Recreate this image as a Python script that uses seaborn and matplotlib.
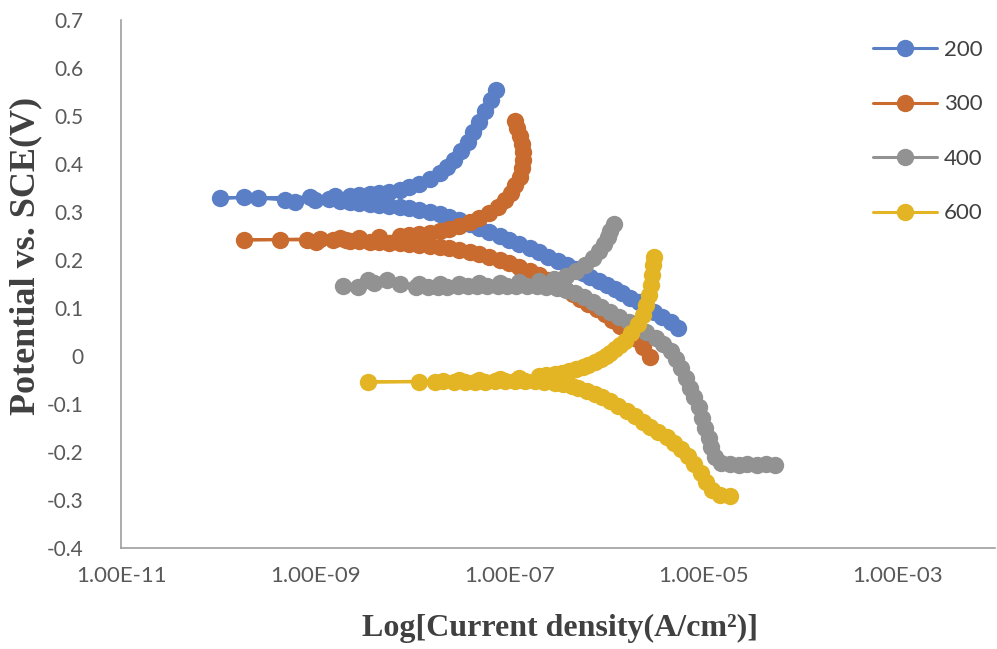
import numpy as np
import pandas as pd
import matplotlib
matplotlib.use("Agg")
import matplotlib.pyplot as plt
import seaborn as sns
from matplotlib.ticker import FixedLocator, FuncFormatter, NullLocator

# log10 of current density (A/cm2) and potential (V vs SCE), in scan order:
# cathodic end -> corrosion potential -> anodic end
logi_200 = [-5.26, -5.34, -5.43, -5.51, -5.59, -5.67, -5.76, -5.84, -5.91, -6.00,
            -6.08, -6.17, -6.24, -6.33, -6.41, -6.50, -6.60, -6.70, -6.79, -6.90,
            -7.00, -7.10, -7.21, -7.31, -7.41, -7.52, -7.62, -7.72, -7.82, -7.93,
            -8.03, -8.13, -8.24, -8.34, -8.44, -8.55, -8.64, -8.74, -8.86, -9.00,
            -9.21, -9.31, -9.59, -9.73, -9.98,
            -9.05, -8.80, -8.64, -8.55, -8.44, -8.34, -8.24, -8.13, -8.03, -7.93,
            -7.82, -7.72, -7.64, -7.57, -7.50, -7.43, -7.38, -7.31, -7.25, -7.19, -7.14]
e_200 = [0.058, 0.071, 0.081, 0.092, 0.102, 0.112, 0.121, 0.131, 0.140, 0.148,
         0.156, 0.165, 0.173, 0.181, 0.190, 0.198, 0.206, 0.217, 0.225, 0.233,
         0.242, 0.250, 0.258, 0.267, 0.275, 0.283, 0.290, 0.296, 0.300, 0.304,
         0.308, 0.310, 0.312, 0.315, 0.317, 0.319, 0.321, 0.323, 0.327, 0.325,
         0.321, 0.325, 0.329, 0.331, 0.329,
         0.331, 0.333, 0.333, 0.335, 0.338, 0.340, 0.342, 0.346, 0.352, 0.358,
         0.369, 0.381, 0.394, 0.408, 0.427, 0.446, 0.467, 0.488, 0.510, 0.533, 0.554]

logi_300 = [-5.55, -5.62, -5.69, -5.77, -5.86, -5.94, -6.02, -6.10, -6.19, -6.27,
            -6.35, -6.43, -6.51, -6.60, -6.70, -6.79, -6.90, -7.00, -7.10, -7.21,
            -7.31, -7.41, -7.52, -7.62, -7.72, -7.82, -7.93, -8.03, -8.13, -8.24,
            -8.34, -8.44, -8.55, -8.64, -8.68, -8.82, -8.99, -9.09, -9.36, -9.73,
            -8.95, -8.74, -8.55, -8.34, -8.13, -8.03, -7.93, -7.82, -7.72, -7.62,
            -7.52, -7.41, -7.31, -7.21, -7.12, -7.05, -6.98, -6.94, -6.89, -6.87,
            -6.86, -6.86, -6.87, -6.89, -6.92, -6.94]
e_300 = [-0.002, 0.019, 0.035, 0.050, 0.062, 0.075, 0.088, 0.098, 0.108, 0.119,
         0.129, 0.140, 0.150, 0.158, 0.169, 0.177, 0.185, 0.194, 0.200, 0.206,
         0.212, 0.217, 0.221, 0.225, 0.227, 0.229, 0.231, 0.233, 0.235, 0.235,
         0.238, 0.238, 0.240, 0.240, 0.242, 0.242, 0.238, 0.242, 0.242, 0.242,
         0.244, 0.246, 0.246, 0.248, 0.250, 0.252, 0.254, 0.256, 0.260, 0.265,
         0.271, 0.279, 0.288, 0.298, 0.310, 0.325, 0.340, 0.356, 0.373, 0.392,
         0.408, 0.425, 0.442, 0.458, 0.475, 0.490]

logi_400 = [-4.27, -4.36, -4.45, -4.55, -4.64, -4.73, -4.82, -4.88, -4.92, -4.95,
            -4.99, -5.02, -5.05, -5.10, -5.14, -5.18, -5.23, -5.29, -5.34, -5.42,
            -5.49, -5.59, -5.68, -5.77, -5.87, -5.96, -6.06, -6.14, -6.23, -6.33,
            -6.42, -6.51, -6.62, -6.72, -6.82, -6.93, -7.03, -7.12, -7.23, -7.33,
            -7.43, -7.53, -7.64, -7.74, -7.84, -7.96, -8.26, -8.46, -8.56, -8.71,
            -8.39, -8.13, -7.93, -7.72, -7.52, -7.31, -7.10, -6.90, -6.70, -6.54,
            -6.42, -6.32, -6.22, -6.14, -6.08, -6.03, -5.99, -5.96, -5.92]
e_400 = [-0.227, -0.225, -0.227, -0.225, -0.227, -0.225, -0.223, -0.210, -0.190, -0.171,
         -0.150, -0.129, -0.106, -0.085, -0.067, -0.046, -0.025, -0.006, 0.010, 0.025,
         0.038, 0.050, 0.060, 0.071, 0.081, 0.092, 0.102, 0.112, 0.123, 0.131,
         0.138, 0.142, 0.144, 0.146, 0.146, 0.146, 0.146, 0.146, 0.146, 0.146,
         0.146, 0.146, 0.144, 0.144, 0.144, 0.144, 0.158, 0.158, 0.144, 0.146,
         0.152, 0.150, 0.150, 0.150, 0.150, 0.152, 0.152, 0.154, 0.156, 0.160,
         0.167, 0.177, 0.190, 0.204, 0.219, 0.233, 0.248, 0.260, 0.275]

logi_600 = [-4.73, -4.83, -4.91, -4.98, -5.03, -5.10, -5.16, -5.23, -5.31, -5.38,
            -5.47, -5.55, -5.63, -5.71, -5.79, -5.88, -5.96, -6.05, -6.12, -6.20,
            -6.29, -6.36, -6.45, -6.53, -6.64, -6.74, -6.84, -6.94, -7.05, -7.15,
            -7.25, -7.36, -7.46, -7.57, -7.77, -7.93, -8.46,
            -7.68, -7.52, -7.31, -7.10, -6.90, -6.70, -6.62, -6.53, -6.46, -6.39,
            -6.32, -6.24, -6.19, -6.12, -6.06, -6.01, -5.96, -5.91, -5.86, -5.81,
            -5.75, -5.68, -5.63, -5.59, -5.56, -5.54, -5.53, -5.52, -5.51]
e_600 = [-0.292, -0.290, -0.279, -0.262, -0.244, -0.225, -0.208, -0.194, -0.181, -0.169,
         -0.158, -0.148, -0.138, -0.125, -0.115, -0.104, -0.094, -0.085, -0.079, -0.073,
         -0.067, -0.062, -0.058, -0.056, -0.054, -0.052, -0.052, -0.052, -0.052, -0.052,
         -0.054, -0.054, -0.054, -0.054, -0.054, -0.054, -0.054,
         -0.052, -0.050, -0.050, -0.048, -0.046, -0.042, -0.040, -0.038, -0.035, -0.031,
         -0.027, -0.023, -0.019, -0.012, -0.006, 0.000, 0.006, 0.015, 0.023, 0.031,
         0.048, 0.067, 0.085, 0.106, 0.127, 0.148, 0.169, 0.190, 0.206]

series_names = ["200", "300", "400", "600"]
series_logi = [logi_200, logi_300, logi_400, logi_600]
series_e = [e_200, e_300, e_400, e_600]
colors = ["#5B7FC7", "#C96A2E", "#929292", "#E3B424"]

x_ticks = [1e-11, 1e-9, 1e-7, 1e-5, 1e-3]
y_ticks = [-0.4, -0.3, -0.2, -0.1, 0.0, 0.1, 0.2, 0.3, 0.4, 0.5, 0.6, 0.7]

sns.set_style("white")
plt.rcParams["font.family"] = ["Lato", "DejaVu Sans"]

fig = plt.figure(figsize=(9.97, 6.49), dpi=100)
ax = fig.add_axes([0.1214, 0.1556, 0.8766, 0.8136])
ax.set_xscale("log")

for name, logi, e, col in zip(series_names, series_logi, series_e, colors):
    df = pd.DataFrame({"current": np.power(10.0, logi), "potential": e})
    sns.lineplot(data=df, x="current", y="potential", sort=False, estimator=None,
                 color=col, marker="o", markersize=12.5, markeredgewidth=0,
                 linewidth=2.2, label=name, ax=ax)

ax.set_xlim(1e-11, 1e-2)
ax.set_ylim(-0.4, 0.7)
ax.xaxis.set_major_locator(FixedLocator(x_ticks))
ax.xaxis.set_minor_locator(NullLocator())
ax.xaxis.set_major_formatter(FuncFormatter(lambda v, p: f"{v:.2E}"))
ax.set_yticks(y_ticks)
ax.yaxis.set_major_formatter(FuncFormatter(lambda v, p: "0" if abs(v) < 1e-9 else f"{v:.1f}"))
ax.tick_params(axis="x", length=0, labelsize=16, colors="#595959", pad=13)
ax.tick_params(axis="y", length=0, labelsize=15, colors="#595959", pad=27)

for side in ["top", "right"]:
    ax.spines[side].set_visible(False)
for side in ["left", "bottom"]:
    ax.spines[side].set_color("#9E9E9E")
    ax.spines[side].set_linewidth(1.2)

ax.set_xlabel("Log[Current density(A/cm²)]", family="Liberation Serif",
              fontweight="bold", fontsize=23, color="#404040")
ax.set_ylabel("Potential vs. SCE(V)", family="Liberation Serif",
              fontweight="bold", fontsize=26, color="#404040")
ax.xaxis.set_label_coords(0.502, -0.125)
ax.yaxis.set_label_coords(-0.09, 0.553)

leg = ax.legend(loc="upper left", bbox_to_anchor=(873 / 997, 1 - 40 / 649),
                bbox_transform=fig.transFigure, frameon=False, fontsize=16,
                handlelength=2.9, handletextpad=0.3, labelspacing=1.55,
                borderpad=0, borderaxespad=0)
for t in leg.get_texts():
    t.set_color("#404040")

fig.savefig("out.png", dpi=100)
